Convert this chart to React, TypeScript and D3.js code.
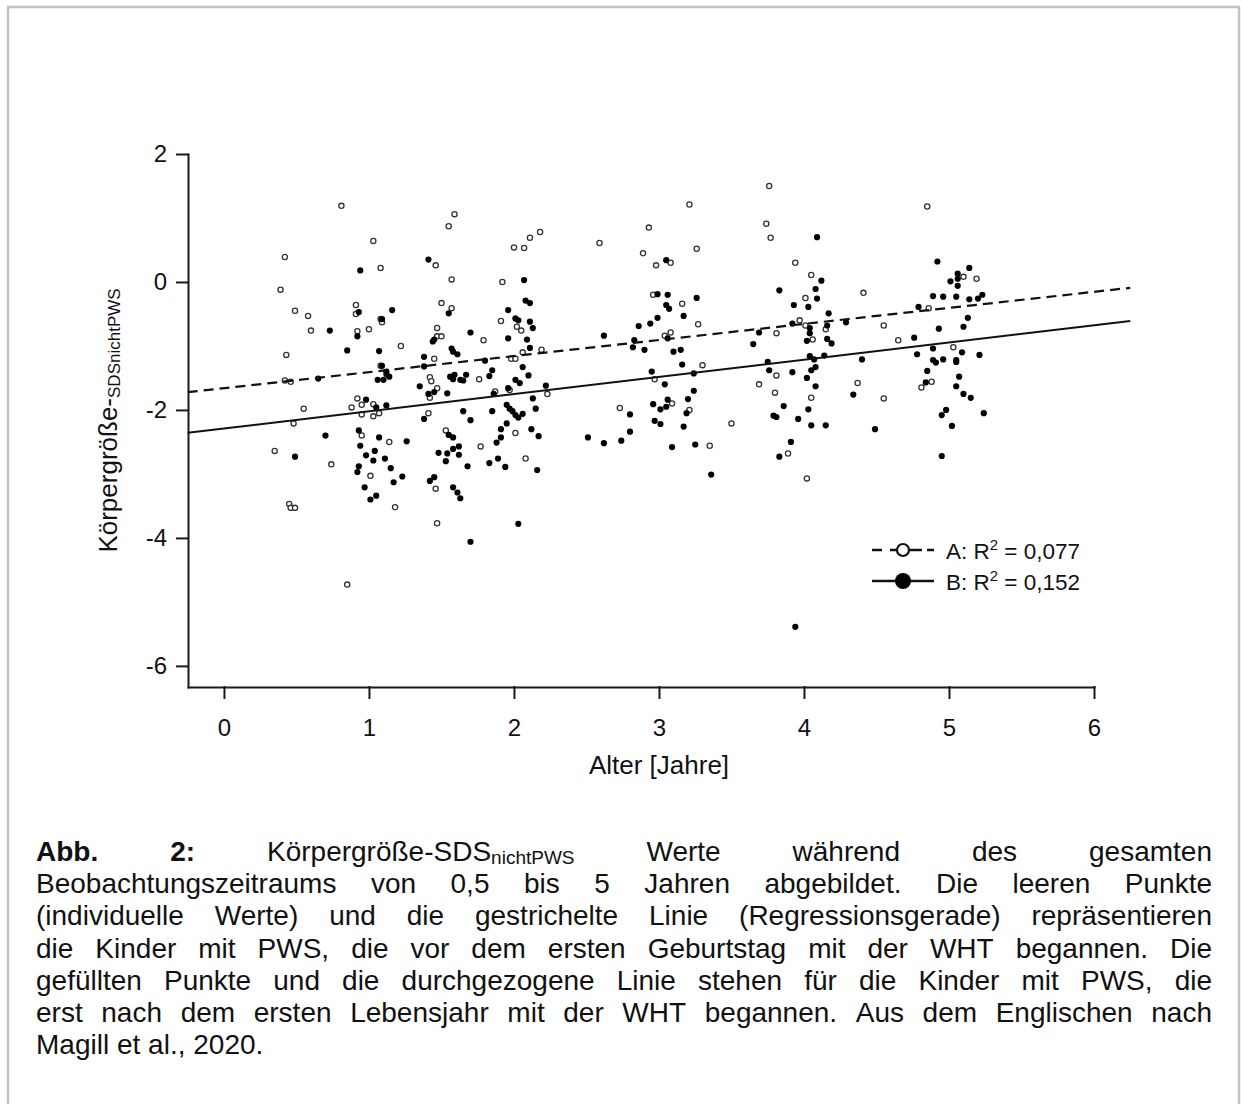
import React, { useEffect, useRef } from "react";
import * as d3 from "d3";

// Gruppe A (leere Punkte): [Alter, SDS]
const groupA: [number, number][] = [
  [0.81, 1.19], [1.03, 0.64], [0.42, 0.39], [0.39, -0.12], [1.08, 0.22], [0.49, -0.45], [0.58, -0.53],
  [0.91, -0.36], [0.91, -0.5], [0.6, -0.76], [0.92, -0.77], [1.0, -0.74], [1.08, -0.58], [0.43, -1.14],
  [0.42, -1.54], [0.46, -1.56], [1.08, -1.31], [0.92, -1.82], [0.88, -1.96], [0.95, -1.92], [1.03, -1.91],
  [0.55, -1.98], [0.95, -2.07], [1.03, -2.1], [0.48, -2.21], [0.95, -2.4],
  [0.35, -2.64], [0.74, -2.85], [1.01, -3.03], [0.45, -3.47], [0.46, -3.53], [0.49, -3.53], [0.85, -4.73],
  [1.59, 1.06], [1.55, 0.87], [1.46, 0.26], [1.57, 0.04], [2.0, 0.54], [2.07, 0.53], [2.11, 0.69],
  [2.18, 0.78], [1.92, 0.0], [1.5, -0.33], [1.57, -0.41], [1.09, -0.63], [1.47, -0.72], [1.47, -0.85],
  [1.5, -0.85], [1.22, -1.0], [1.91, -0.61], [2.02, -0.7], [2.05, -0.76], [1.79, -0.91], [1.45, -1.2],
  [1.98, -1.2], [2.01, -1.2], [2.06, -1.1], [2.19, -1.06], [1.42, -1.49], [1.43, -1.55], [1.76, -1.52],
  [1.47, -1.66], [1.42, -1.81], [1.87, -1.71], [1.97, -1.69], [2.23, -1.75], [1.07, -2.05], [1.41, -2.05],
  [1.53, -2.32], [2.01, -2.36],
  [1.14, -2.5], [1.18, -3.52], [1.46, -3.23], [1.47, -3.77], [1.77, -2.57], [2.08, -2.76],
  [3.21, 1.21], [2.93, 0.85], [2.59, 0.61], [2.89, 0.45], [3.26, 0.52], [2.98, 0.26], [3.08, 0.3],
  [3.74, 0.91], [3.77, 0.69], [3.76, 1.5], [2.96, -0.2], [3.16, -0.34], [3.27, -0.66], [3.04, -0.84],
  [3.08, -0.79], [3.3, -1.3], [2.97, -1.52], [3.69, -1.6], [2.73, -1.97], [3.09, -1.9], [3.21, -2.0],
  [3.5, -2.21], [3.35, -2.56],
  [3.94, 0.3], [4.05, 0.11], [4.85, 1.18], [4.41, -0.17], [4.01, -0.25], [3.97, -0.6], [4.01, -0.68],
  [3.81, -0.8], [4.06, -0.9], [4.15, -0.74], [4.55, -0.68], [4.65, -0.91], [4.86, -0.41], [3.81, -1.46],
  [3.8, -1.73], [4.05, -1.81], [4.37, -1.58], [4.55, -1.82], [4.81, -1.65], [3.89, -2.68],
  [5.1, 0.08], [5.19, 0.05], [5.03, -1.02], [4.88, -1.56], [4.02, -3.07],
];

// Gruppe B (gefüllte Punkte): [Alter, SDS]
const groupB: [number, number][] = [
  [0.94, 0.18], [0.93, -0.47], [0.73, -0.76], [0.92, -0.85], [0.85, -1.07], [1.07, -1.08], [0.65, -1.51],
  [1.06, -1.53], [0.98, -1.84], [1.05, -1.96], [0.7, -2.4], [0.93, -2.32], [1.07, -2.43],
  [0.49, -2.73], [0.94, -2.56], [0.98, -2.71], [1.04, -2.64], [1.03, -2.79], [0.93, -2.88], [0.92, -2.97],
  [0.97, -3.21], [1.01, -3.4], [1.05, -3.34],
  [1.41, 0.35], [2.07, 0.03], [2.08, -0.29], [2.11, -0.33], [1.16, -0.44], [1.55, -0.49], [1.09, -0.58],
  [1.96, -0.44], [2.01, -0.57], [2.03, -0.6], [2.11, -0.62], [2.13, -0.72], [1.7, -0.79], [1.45, -0.9],
  [1.44, -0.93], [1.96, -0.88], [2.09, -0.9], [1.57, -1.04], [1.58, -1.09], [1.61, -1.13], [2.11, -1.03],
  [1.38, -1.17], [1.09, -1.31], [2.06, -1.33], [1.8, -1.23], [1.38, -1.32], [1.12, -1.4], [1.14, -1.48],
  [1.12, -1.44], [1.1, -1.53], [1.85, -1.38], [2.1, -1.46], [1.56, -1.48], [1.58, -1.52], [1.59, -1.45],
  [1.63, -1.53], [1.67, -1.45], [1.65, -1.54], [1.83, -1.47], [2.01, -1.53], [2.04, -1.58], [1.35, -1.63],
  [1.54, -1.74], [1.41, -1.75], [1.45, -1.72], [1.86, -1.75], [1.96, -1.66], [2.13, -1.82], [2.22, -1.62],
  [1.12, -1.93], [1.95, -1.92], [1.97, -1.98], [1.99, -2.02], [2.15, -1.98], [1.65, -2.02], [1.85, -2.02],
  [1.38, -2.14], [1.7, -2.16], [2.01, -2.08], [2.03, -2.12], [2.06, -2.06], [1.95, -2.21], [1.91, -2.3],
  [2.12, -2.3], [1.55, -2.39], [1.58, -2.43], [1.91, -2.43], [2.17, -2.41],
  [1.88, -2.51], [1.26, -2.49], [1.11, -2.76], [1.15, -2.91], [1.23, -3.04], [1.17, -3.13], [1.48, -2.67],
  [1.54, -2.68], [1.53, -2.8], [1.58, -2.61], [1.62, -2.57], [1.62, -2.7], [1.68, -2.88], [1.45, -3.05],
  [1.42, -3.11], [1.58, -3.21], [1.61, -3.29], [1.63, -3.38], [1.83, -2.83], [1.89, -2.76], [1.94, -2.89],
  [2.16, -2.94], [2.03, -3.78], [1.7, -4.06],
  [3.05, 0.34], [2.99, -0.19], [3.06, -0.2], [3.26, -0.25], [3.05, -0.36], [3.07, -0.42], [3.17, -0.53],
  [2.99, -0.56], [2.86, -0.69], [2.94, -0.65], [2.62, -0.84], [2.83, -0.91], [2.82, -1.02], [3.06, -0.88],
  [2.9, -1.06], [3.1, -1.09], [3.15, -1.06], [3.69, -0.79], [3.65, -0.97], [3.16, -1.29], [2.95, -1.4],
  [3.24, -1.43], [3.75, -1.25], [3.76, -1.38], [3.04, -1.6], [3.24, -1.7], [3.06, -1.84], [2.96, -1.91],
  [3.01, -1.99], [3.05, -1.95], [3.2, -1.83], [3.19, -2.05], [2.8, -2.07], [2.97, -2.17], [3.01, -2.22],
  [3.17, -2.26], [2.8, -2.34], [2.51, -2.43], [2.62, -2.52], [2.74, -2.48], [3.09, -2.58], [3.25, -2.54],
  [3.36, -3.01],
  [4.09, 0.7], [4.12, 0.02], [3.83, -0.13], [4.08, -0.11], [4.09, -0.26], [3.93, -0.36], [4.03, -0.39],
  [4.17, -0.49], [3.92, -0.65], [4.04, -0.72], [4.04, -0.8], [4.02, -0.92], [4.16, -0.68], [4.29, -0.63],
  [4.16, -0.89], [4.19, -0.96], [4.79, -0.39], [4.76, -0.87], [4.78, -1.13], [4.04, -1.16], [4.07, -1.21],
  [4.14, -1.15], [4.4, -1.21], [3.92, -1.41], [4.05, -1.38], [4.08, -1.33], [4.02, -1.5], [4.08, -1.63],
  [4.85, -1.39], [4.84, -1.57], [4.34, -1.76], [3.86, -1.94], [4.03, -1.99], [3.79, -2.09], [3.81, -2.11],
  [3.96, -2.14], [4.05, -2.24], [4.15, -2.24], [4.49, -2.3], [3.91, -2.5], [3.83, -2.73],
  [4.92, 0.32], [5.14, 0.22], [5.06, 0.13], [5.06, 0.05], [5.06, -0.06], [5.01, 0.01], [4.89, -0.22],
  [4.96, -0.23], [5.05, -0.23], [5.14, -0.27], [5.2, -0.26], [5.23, -0.2], [5.13, -0.56], [4.93, -0.73],
  [5.1, -0.7], [4.89, -1.04], [5.09, -1.1], [5.21, -1.14], [4.89, -1.22], [4.91, -1.26], [4.96, -1.21],
  [5.05, -1.22], [5.05, -1.25], [5.07, -1.48], [5.05, -1.63], [5.1, -1.75], [5.15, -1.81], [4.98, -2.0],
  [4.95, -2.08], [5.24, -2.05], [5.02, -2.25], [4.95, -2.72], [3.94, -5.39],
];

// Regressionsgeraden [Achsenabschnitt, Steigung]
const regA = [-1.66, 0.251];
const regB = [-2.29, 0.269];
const regRange = [-0.25, 6.25];

const xTicks = [0, 1, 2, 3, 4, 5, 6];
const yTicks = [2, 0, -2, -4, -6];

const legendLabels = [
  { name: "A", r2: "0,077" },
  { name: "B", r2: "0,152" },
];

type Seg = { t: string; b?: boolean; sub?: boolean };
const captionFirst: Seg[][] = [
  [{ t: "Abb.", b: true }],
  [{ t: "2:", b: true }],
  [{ t: "Körpergröße-SDS" }, { t: "nichtPWS", sub: true }],
  [{ t: "Werte" }],
  [{ t: "während" }],
  [{ t: "des" }],
  [{ t: "gesamten" }],
];
const captionRest = [
  "Beobachtungszeitraums von 0,5 bis 5 Jahren abgebildet. Die leeren Punkte",
  "(individuelle Werte) und die gestrichelte Linie (Regressionsgerade) repräsentieren",
  "die Kinder mit PWS, die vor dem ersten Geburtstag mit der WHT begannen. Die",
  "gefüllten Punkte und die durchgezogene Linie stehen für die Kinder mit PWS, die",
  "erst nach dem ersten Lebensjahr mit der WHT begannen. Aus dem Englischen nach",
  "Magill et al., 2020.",
];

const W = 1242, H = 1104;
const FONT = "'Liberation Sans', Arial, Helvetica, sans-serif";

export default function App() {
  const ref = useRef<SVGSVGElement>(null);

  useEffect(() => {
    const svg = d3.select(ref.current);
    svg.selectAll("*").remove();

    // Rahmen
    svg.append("rect")
      .attr("x", 8).attr("y", 7).attr("width", 1231).attr("height", 1200)
      .attr("fill", "#fff").attr("stroke", "#c4c4c4").attr("stroke-width", 2.5);

    const x = d3.scaleLinear().domain([-0.248, 6]).range([188, 1094]);
    const y = d3.scaleLinear().domain([-6.33, 2]).range([687, 154]);

    const gx = svg.append("g")
      .attr("transform", "translate(0,687)")
      .call(d3.axisBottom(x).tickValues(xTicks).tickSize(11).tickSizeOuter(0).tickPadding(21)
        .tickFormat((d) => String(d)));
    const gy = svg.append("g")
      .attr("transform", "translate(188,0)")
      .call(d3.axisLeft(y).tickValues(yTicks).tickSize(11).tickSizeOuter(0).tickPadding(10)
        .tickFormat((d) => String(d)));
    for (const g of [gx, gy]) {
      g.attr("font-size", 24).attr("font-family", FONT);
      g.selectAll("path,line").attr("stroke", "#1a1a1a").attr("stroke-width", 2)
        .attr("stroke-linecap", "square");
      g.selectAll("text").attr("fill", "#111");
    }

    // Achsentitel
    svg.append("text")
      .attr("x", x(3)).attr("y", 774)
      .attr("text-anchor", "middle").attr("font-family", FONT).attr("font-size", 26).attr("fill", "#111")
      .text("Alter [Jahre]");
    const yt = svg.append("text")
      .attr("transform", `translate(117,${(154 + 687) / 2}) rotate(-90)`)
      .attr("text-anchor", "middle").attr("font-family", FONT).attr("font-size", 26).attr("fill", "#111");
    yt.append("tspan").text("Körpergröße-");
    yt.append("tspan").attr("font-size", 17).attr("dy", 3).text("SDSnichtPWS");

    // Punkte
    svg.append("g").selectAll("circle").data(groupA).join("circle")
      .attr("cx", (d) => x(d[0])).attr("cy", (d) => y(d[1])).attr("r", 2.6)
      .attr("fill", "#fff").attr("stroke", "#333").attr("stroke-width", 1.3);
    svg.append("g").selectAll("circle").data(groupB).join("circle")
      .attr("cx", (d) => x(d[0])).attr("cy", (d) => y(d[1])).attr("r", 3.1)
      .attr("fill", "#000");

    // Regressionsgeraden
    const line = d3.line<number[]>().x((d) => x(d[0])).y((d) => y(d[1]));
    const lineData = (reg: number[]) => regRange.map((v) => [v, reg[0] + reg[1] * v]);
    svg.append("path").attr("d", line(lineData(regA)))
      .attr("fill", "none").attr("stroke", "#111").attr("stroke-width", 2.2).attr("stroke-dasharray", "10,6");
    svg.append("path").attr("d", line(lineData(regB)))
      .attr("fill", "none").attr("stroke", "#111").attr("stroke-width", 2);

    // Legende
    const lg = svg.append("g").attr("font-family", FONT).attr("fill", "#111");
    legendLabels.forEach((l, i) => {
      const ly = 550 + i * 31;
      lg.append("line").attr("x1", 872).attr("x2", 934).attr("y1", ly).attr("y2", ly)
        .attr("stroke", "#111").attr("stroke-width", 2.5)
        .attr("stroke-dasharray", i === 0 ? "10,8,32,5,7,100" : null);
      lg.append("circle").attr("cx", 903).attr("cy", ly).attr("r", i === 0 ? 6 : 8)
        .attr("fill", i === 0 ? "#fff" : "#000").attr("stroke", "#111").attr("stroke-width", i === 0 ? 2.2 : 0);
      const t = lg.append("text").attr("x", 946).attr("y", ly + 8.5).attr("font-size", 22.5);
      t.append("tspan").text(`${l.name}: R`);
      t.append("tspan").attr("font-size", 15).attr("dy", -9).text("2");
      t.append("tspan").attr("dy", 9).text(` = ${l.r2}`);
    });

    // Bildunterschrift (Blocksatz)
    const cap = svg.append("g").attr("font-family", FONT).attr("font-size", 28).attr("fill", "#111");
    const left = 36, right = 1212, lh = 32.2, base0 = 861;
    const lines: Seg[][][] = [captionFirst, ...captionRest.map((s) => s.split(" ").map((w) => [{ t: w }]))];
    lines.forEach((words, li) => {
      const by = base0 + li * lh;
      const nodes = words.map((segs) => {
        const t = cap.append("text").attr("y", by);
        segs.forEach((s) => {
          const sp = t.append("tspan").text(s.t);
          if (s.b) sp.attr("font-weight", "bold");
          if (s.sub) sp.attr("font-size", 19).attr("dy", 3);
        });
        return t;
      });
      const widths = nodes.map((n) => (n.node() as SVGTextElement).getComputedTextLength());
      const total = d3.sum(widths);
      const last = li === lines.length - 1;
      const gap = last ? 7.8 : (right - left - total) / (words.length - 1);
      let cx = left;
      nodes.forEach((n, k) => {
        n.attr("x", cx);
        cx += widths[k] + gap;
      });
    });
  }, []);

  return (
    <svg ref={ref} width={W} height={H}
      style={{ position: "absolute", left: 0, top: 0, background: "#fff" }} />
  );
}
